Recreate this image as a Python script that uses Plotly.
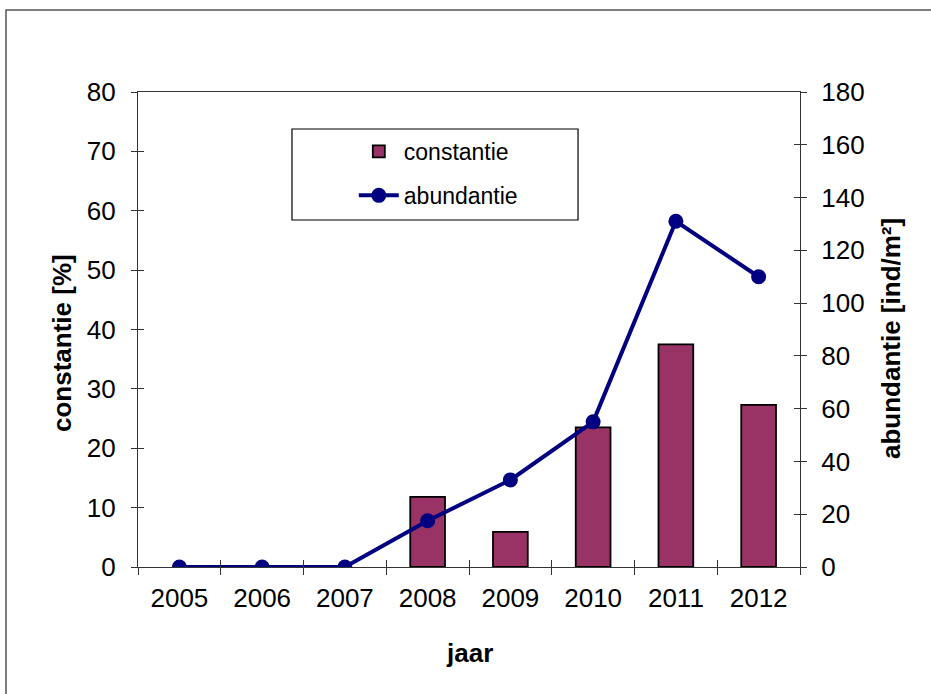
import plotly.graph_objects as go

# Survey data per year
jaren = ["2005", "2006", "2007", "2008", "2009", "2010", "2011", "2012"]
constantie = [0, 0, 0, 11.8, 5.9, 23.5, 37.5, 27.3]        # %
abundantie = [0, 0, 0, 17.5, 33, 55, 131, 110]             # ind/m²

x_pos = list(range(len(jaren)))
x_range = [-0.5, len(jaren) - 0.5]
boundaries = [i - 0.5 for i in range(len(jaren) + 1)]

FONT = "Liberation Sans, Arial, sans-serif"
AXIS_COL = "#333333"
BAR_COL = "#993366"
LINE_COL = "#000080"

# years with zero constantie get no bar drawn (no flat outline on the axis)
bar_heights = [v if v > 0 else None for v in constantie]

fig = go.Figure()

fig.add_trace(go.Bar(
    x=x_pos, y=bar_heights, name="constantie", width=0.42,
    marker=dict(color=BAR_COL, line=dict(color="black", width=1.8)),
    yaxis="y", legendgroup="a",
))
fig.add_trace(go.Scatter(
    x=x_pos, y=abundantie, name="abundantie", mode="lines+markers",
    line=dict(color=LINE_COL, width=4),
    marker=dict(color=LINE_COL, size=15),
    yaxis="y2", legendgroup="b",
))

# empty helper traces so the overlay axes (inner tick halves) are drawn
for xa, ya in [("x2", "y"), ("x3", "y"), ("x", "y3"), ("x", "y4")]:
    fig.add_trace(go.Scatter(x=[None], y=[None], xaxis=xa, yaxis=ya,
                             showlegend=False, hoverinfo="skip"))

tick_font = dict(family=FONT, size=26, color="black")

common_x = dict(range=x_range, showgrid=False, zeroline=False)
common_y1 = dict(range=[0, 80], tickvals=list(range(0, 81, 10)),
                 showgrid=False, zeroline=False)
common_y2 = dict(range=[0, 180], tickvals=list(range(0, 181, 20)),
                 showgrid=False, zeroline=False)

fig.update_layout(
    width=931, height=694,
    margin=dict(l=138, r=131, t=92, b=127),
    paper_bgcolor="white", plot_bgcolor="white",
    font=dict(family=FONT, color="black"),
    bargap=0.5,
    xaxis=dict(**common_x, tickvals=x_pos, ticktext=jaren, ticks="",
               showline=True, linecolor=AXIS_COL, linewidth=1.3, mirror=True,
               tickfont=tick_font, ticklabelstandoff=8),
    xaxis2=dict(**common_x, overlaying="x", anchor="y", tickvals=boundaries,
                ticks="outside", ticklen=7, tickcolor=AXIS_COL, tickwidth=1.3,
                showticklabels=False, showline=False),
    xaxis3=dict(**common_x, overlaying="x", anchor="y", tickvals=boundaries,
                ticks="inside", ticklen=7, tickcolor=AXIS_COL, tickwidth=1.3,
                showticklabels=False, showline=False),
    yaxis=dict(**common_y1, ticks="outside", ticklen=6, tickcolor=AXIS_COL,
               tickwidth=1.3, showline=True, linecolor=AXIS_COL, linewidth=1.3,
               tickfont=tick_font, ticklabelstandoff=10),
    yaxis3=dict(**common_y1, overlaying="y", anchor="x", side="left",
                ticks="inside", ticklen=6, tickcolor=AXIS_COL, tickwidth=1.3,
                showticklabels=False, showline=False),
    yaxis2=dict(**common_y2, overlaying="y", anchor="x", side="right",
                ticks="outside", ticklen=6, tickcolor=AXIS_COL, tickwidth=1.3,
                showline=True, linecolor=AXIS_COL, linewidth=1.3,
                tickfont=tick_font, ticklabelstandoff=9),
    yaxis4=dict(**common_y2, overlaying="y", anchor="x", side="right",
                ticks="inside", ticklen=6, tickcolor=AXIS_COL, tickwidth=1.3,
                showticklabels=False, showline=False),
    legend=dict(x=0.326, y=0.92, xanchor="left", yanchor="top",
                bgcolor="rgba(0,0,0,0)", borderwidth=0,
                font=dict(family=FONT, size=23, color="black"),
                traceorder="grouped", tracegroupgap=11, itemwidth=40),
    showlegend=True,
)

# frame around the whole chart and around the legend
fig.add_shape(type="rect", xref="paper", yref="paper",
              x0=-0.1994, x1=1.35, y0=-0.35, y1=1.1726,
              line=dict(color="#555555", width=1.5), layer="below")
fig.add_shape(type="rect", xref="paper", yref="paper",
              x0=0.2326, x1=0.6647, y0=0.7305, y1=0.9221,
              line=dict(color="black", width=1.2), fillcolor="rgba(0,0,0,0)")

title_font = dict(family=FONT, size=26, color="black")
fig.add_annotation(text="<b>constantie [%]</b>", xref="paper", yref="paper",
                   x=-0.1148, y=0.4716, textangle=-90, showarrow=False,
                   font=title_font, xanchor="center", yanchor="middle")
fig.add_annotation(text="<b>abundantie [ind/m²]</b>", xref="paper", yref="paper",
                   x=1.1375, y=0.48, textangle=-90, showarrow=False,
                   font=title_font, xanchor="center", yanchor="middle")
fig.add_annotation(text="<b>jaar</b>", xref="paper", yref="paper",
                   x=0.5, y=-0.181, showarrow=False, font=title_font,
                   xanchor="center", yanchor="middle")

fig.write_html("out.html")
